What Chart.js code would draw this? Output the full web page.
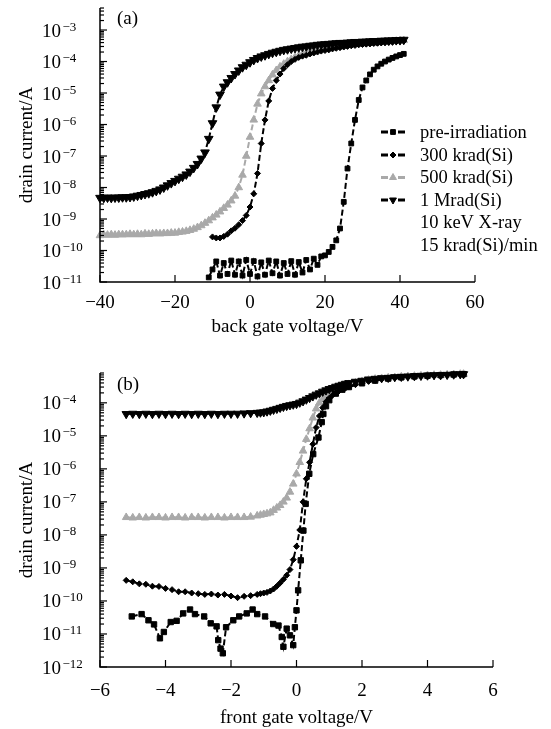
<!DOCTYPE html>
<html><head><meta charset="utf-8">
<script src="https://cdn.jsdelivr.net/npm/chart.js@4/dist/chart.umd.min.js"></script>
<style>
html,body{margin:0;padding:0;background:#fff;}
#wrap{position:relative;width:551px;height:729px;background:#fff;}
#chartA{position:absolute;left:0;top:0;}
#chartB{position:absolute;left:0;top:345px;}
</style></head><body>
<div id="wrap">
<canvas id="chartA" width="551" height="345"></canvas>
<canvas id="chartB" width="551" height="384"></canvas>
</div>
<script>
// ---------- DATA ----------
const seriesNames = ['pre-irradiation', '300 krad(Si)', '500 krad(Si)', '1 Mrad(Si)'];
const notes = ['10 keV X-ray', '15 krad(Si)/min'];

// Panel (a): back gate voltage (V) vs drain current (A)
const vA = [-40,-39,-38,-37,-36,-35,-34,-33,-32,-31,-30,-29,-28,-27,-26,-25,-24,-23,-22,-21,-20,-19,-18,-17,-16,-15,-14,-13,-12,-11,-10,-9,-8,-7,-6,-5,-4,-3,-2,-1,0,1,2,3,4,5,6,7,8,9,10,11,12,13,14,15,16,17,18,19,20,21,22,23,24,25,26,27,28,29,30,31,32,33,34,35,36,37,38,39,40,41];
const iA_1M = [4.7e-9,4.7e-9,4.8e-9,4.7e-9,4.8e-9,4.8e-9,4.9e-9,4.9e-9,5.0e-9,5.2e-9,
  5.5e-9,5.8e-9,6.2e-9,6.6e-9,7.1e-9,7.8e-9,8.7e-9,1.0e-8,1.17e-8,1.38e-8,
  1.62e-8,1.9e-8,2.2e-8,2.6e-8,3.2e-8,4.2e-8,5.6e-8,8.3e-8,1.3e-7,3.5e-7,
  1.1e-6,3.5e-6,8.9e-6,1.6e-5,2.2e-5,3.0e-5,4.0e-5,5.2e-5,6.6e-5,7.9e-5,
  9.5e-5,1.12e-4,1.29e-4,1.45e-4,1.58e-4,1.74e-4,1.9e-4,2.04e-4,2.19e-4,2.34e-4,2.45e-4,
  2.57e-4,2.69e-4,2.82e-4,2.95e-4,3.02e-4,3.16e-4,3.24e-4,3.39e-4,3.47e-4,3.55e-4,
  3.63e-4,3.72e-4,3.8e-4,3.89e-4,3.89e-4,3.98e-4,4.07e-4,4.17e-4,4.17e-4,4.27e-4,
  4.27e-4,4.37e-4,4.47e-4,4.47e-4,4.57e-4,4.57e-4,4.68e-4,4.68e-4,4.79e-4,4.79e-4,4.9e-4];
const iA_500k = [3.0e-10,3.2e-10,3.1e-10,3.2e-10,3.1e-10,3.2e-10,3.2e-10,3.2e-10,3.3e-10,3.2e-10,
  3.3e-10,3.2e-10,3.4e-10,3.3e-10,3.4e-10,3.5e-10,3.4e-10,3.5e-10,3.5e-10,3.6e-10,
  3.6e-10,3.8e-10,3.9e-10,4.1e-10,4.4e-10,4.8e-10,5.4e-10,6.2e-10,7.4e-10,8.9e-10,
  1.1e-9,1.35e-9,1.7e-9,2.2e-9,2.8e-9,3.8e-9,5.4e-9,1.0e-8,2.5e-8,1.0e-7,
  4.0e-7,1.4e-6,4.5e-6,9.5e-6,1.6e-5,2.5e-5,3.8e-5,5.2e-5,6.8e-5,8.3e-5,
  1.0e-4,1.17e-4,1.35e-4,1.51e-4,1.7e-4,1.86e-4,2.0e-4,2.14e-4,2.29e-4,2.4e-4,
  2.51e-4,2.63e-4,2.75e-4,2.88e-4,3.02e-4,3.16e-4,3.24e-4,3.39e-4,3.47e-4,3.55e-4,
  3.63e-4,3.72e-4,3.8e-4,3.89e-4,3.98e-4,4.07e-4,4.17e-4,4.27e-4,4.37e-4,4.47e-4,
  4.57e-4,4.68e-4];
const vA_300k = [-10,-9,-8,-7,-6,-5,-4,-3,-2,-1,0,1,2,3,4,5,6,7,8,9,10,11,12,13,14,15,16,17,18,19,20,21,22,23,24,25,26,27,28,29,30,31,32,33,34,35,36,37,38,39,40,41];
const iA_300k = [2.7e-10,2.5e-10,2.5e-10,2.8e-10,3.3e-10,4.2e-10,5.1e-10,6.6e-10,8.9e-10,1.3e-9,
  2.4e-9,6.3e-9,2.8e-8,2.5e-7,1.4e-6,5.6e-6,1.4e-5,2.5e-5,4.0e-5,6.0e-5,
  7.9e-5,1.0e-4,1.17e-4,1.35e-4,1.48e-4,1.58e-4,1.74e-4,1.86e-4,2.0e-4,2.14e-4,
  2.24e-4,2.34e-4,2.51e-4,2.63e-4,2.75e-4,2.88e-4,3.02e-4,3.16e-4,3.24e-4,3.39e-4,
  3.47e-4,3.55e-4,3.63e-4,3.72e-4,3.8e-4,3.89e-4,3.98e-4,4.07e-4,4.17e-4,4.27e-4,
  4.37e-4,4.47e-4];
const vA_pre = [-11,-10,-9,-8,-7,-6,-5,-4,-3,-2,-1,0,1,2,3,4,5,6,7,8,9,10,11,12,13,14,15,16,17,18,19,20,21,22,23,24,25,26,27,28,29,30,31,32,33,34,35,36,37,38,39,40,41];
const iA_pre = [1.4e-11,2.5e-11,4.5e-11,1.6e-11,4.0e-11,1.8e-11,4.8e-11,1.7e-11,4.5e-11,1.6e-11,
  5.0e-11,1.8e-11,4.6e-11,1.5e-11,4.2e-11,1.7e-11,4.8e-11,1.9e-11,4.5e-11,1.6e-11,
  4.0e-11,1.8e-11,4.6e-11,1.7e-11,4.3e-11,2.0e-11,5.0e-11,2.5e-11,5.5e-11,3.5e-11,
  6.5e-11,7.0e-11,9.0e-11,1.3e-10,2.1e-10,5.0e-10,3.5e-9,4.0e-8,2.5e-7,1.4e-6,
  6.0e-6,1.5e-5,2.5e-5,3.9e-5,5.5e-5,7.0e-5,8.5e-5,1.0e-4,1.15e-4,1.3e-4,
  1.45e-4,1.6e-4,1.75e-4];

// Panel (b): front gate voltage (V) vs drain current (A)
const vB = [-5.2,-5.0,-4.8,-4.6,-4.4,-4.2,-4.0,-3.8,-3.6,-3.4,-3.2,-3.0,-2.8,-2.6,-2.4,-2.2,-2.0,-1.8,-1.6,-1.4,-1.2,
  -1.1,-1.0,-0.9,-0.8,-0.7,-0.6,-0.5,-0.4,-0.3,-0.2,-0.1,0.0,0.1,0.2,0.3,0.4,0.5,0.6,0.7,0.8,0.9,1.0,1.1,1.2,1.3,1.4,1.5,1.6,
  1.8,2.0,2.2,2.4,2.6,2.8,3.0,3.2,3.4,3.6,3.8,4.0,4.2,4.4,4.6,4.8,5.0,5.1];
const iB_1M = [4.6e-5,4.7e-5,4.6e-5,4.7e-5,4.6e-5,4.7e-5,4.6e-5,4.7e-5,4.6e-5,4.7e-5,4.6e-5,4.7e-5,4.6e-5,4.7e-5,4.6e-5,4.7e-5,4.7e-5,4.7e-5,4.8e-5,4.9e-5,5.0e-5,
  5.1e-5,5.2e-5,5.5e-5,5.8e-5,6.2e-5,6.6e-5,7.1e-5,7.6e-5,8.1e-5,8.5e-5,8.9e-5,9.3e-5,1.02e-4,1.12e-4,1.26e-4,1.41e-4,1.58e-4,1.78e-4,1.95e-4,2.19e-4,2.4e-4,2.63e-4,2.82e-4,3.09e-4,3.31e-4,3.55e-4,3.8e-4,3.98e-4,
  4.37e-4,4.68e-4,5.13e-4,5.37e-4,5.62e-4,5.75e-4,6.03e-4,6.17e-4,6.31e-4,6.46e-4,6.61e-4,6.76e-4,6.92e-4,6.92e-4,7.08e-4,7.24e-4,7.41e-4,7.41e-4];
const iB_500k = [3.4e-8,3.3e-8,3.4e-8,3.3e-8,3.4e-8,3.4e-8,3.3e-8,3.4e-8,3.4e-8,3.3e-8,3.4e-8,3.4e-8,3.3e-8,3.4e-8,3.4e-8,3.3e-8,3.4e-8,3.4e-8,3.4e-8,3.5e-8,3.8e-8,
  4.0e-8,4.2e-8,4.4e-8,4.7e-8,5.6e-8,6.6e-8,7.9e-8,1.0e-7,1.32e-7,2.0e-7,3.5e-7,7.1e-7,1.58e-6,3.5e-6,7.9e-6,1.66e-5,3.5e-5,6.6e-5,1.0e-4,1.26e-4,1.58e-4,1.9e-4,2.19e-4,2.51e-4,2.82e-4,3.09e-4,3.39e-4,3.63e-4,
  4.07e-4,4.47e-4,4.9e-4,5.25e-4,5.5e-4,5.75e-4,5.89e-4,6.17e-4,6.31e-4,6.46e-4,6.61e-4,6.76e-4,6.92e-4,6.92e-4,7.08e-4,7.24e-4,7.41e-4,7.41e-4];
const iB_300k = [4.2e-10,3.8e-10,3.3e-10,3.2e-10,2.8e-10,2.75e-10,2.4e-10,2.2e-10,1.9e-10,1.9e-10,1.74e-10,1.66e-10,1.58e-10,1.62e-10,1.51e-10,1.58e-10,1.41e-10,1.26e-10,1.38e-10,1.45e-10,1.58e-10,
  1.66e-10,1.74e-10,1.82e-10,2.0e-10,2.3e-10,2.8e-10,3.5e-10,4.5e-10,6.0e-10,8.9e-10,1.78e-9,4.5e-9,1.41e-8,1.0e-7,5.0e-7,1.58e-6,5.6e-6,1.78e-5,4.0e-5,7.1e-5,1.07e-4,1.38e-4,1.7e-4,2.0e-4,2.29e-4,2.57e-4,2.82e-4,3.09e-4,
  3.55e-4,3.98e-4,4.47e-4,4.9e-4,5.25e-4,5.5e-4,5.75e-4,6.03e-4,6.17e-4,6.31e-4,6.46e-4,6.61e-4,6.76e-4,6.92e-4,7.08e-4,7.24e-4,7.24e-4,7.41e-4];
const vB_pre = [-5.03,-4.73,-4.52,-4.35,-4.17,-4.05,-3.84,-3.66,-3.46,-3.25,-3.1,-2.82,-2.62,-2.44,-2.39,-2.32,-2.25,-2.15,-1.93,-1.75,-1.52,-1.34,-1.2,-0.96,-0.71,-0.55,-0.45,-0.4,-0.3,-0.2,-0.1,-0.05,0.0,0.05,0.13,0.21,0.28,0.39,0.51,0.67,0.77,0.82,0.9,1.0,1.2,1.4,1.6,2.0,2.4,2.8,3.2,3.6,4.0,4.4,4.8,5.1];
const iB_pre = [3.4e-11,4.0e-11,2.6e-11,1.95e-11,7.4e-12,1.15e-11,2.3e-11,2.5e-11,4.2e-11,5.5e-11,4.0e-11,3.4e-11,2.1e-11,1.7e-11,6.5e-12,3.6e-12,2.6e-12,1.6e-11,2.6e-11,3.4e-11,4.2e-11,5.5e-11,4.0e-11,3.4e-11,2.0e-11,1.8e-11,8.1e-12,4.1e-12,1.45e-11,9.1e-12,4.6e-12,1.6e-11,5.2e-11,2.1e-10,1.7e-9,1.35e-8,8.7e-8,7.1e-7,2.8e-6,8.9e-6,2.6e-5,4.6e-5,7.9e-5,1.2e-4,1.9e-4,2.5e-4,3.0e-4,3.9e-4,4.7e-4,5.4e-4,5.9e-4,6.3e-4,6.6e-4,6.9e-4,7.2e-4,7.4e-4];

const xTicksA = [-40,-20,0,20,40,60];
const xTicksB = [-6,-4,-2,0,2,4,6];

// ---------- HELPERS ----------
const FONT = '"Liberation Serif","Times New Roman",serif';
const GREY = '#a9a9a9';
function pts(xs, ys){ return xs.map((x,i)=>({x:x, y:ys[i]})); }

function styleSets(big){
  return [
    {pointStyle:'rect', radius: big?3.8:3.4, color:'#000', rot:0},
    {pointStyle:'rectRot', radius: 3, color:'#000', rot:0},
    {pointStyle:'triangle', radius: big?4.4:4.4, color:GREY, rot:0},
    {pointStyle:'triangle', radius: big?4.8:5, color:'#000', rot:180}
  ];
}
function makeDatasets(list, big){
  const st = styleSets(big);
  return list.map((d,i)=>({
    label: seriesNames[i],
    data: d,
    borderColor: st[i].color,
    backgroundColor: st[i].color,
    borderWidth: 2,
    borderDash: [6,3],
    pointStyle: st[i].pointStyle,
    pointRadius: st[i].radius,
    pointRotation: st[i].rot,
    pointBorderWidth: 1,
    pointBorderColor: st[i].color,
    pointBackgroundColor: st[i].color,
    tension: 0,
    clip: false,
    order: [1,2,3,0][i]
  }));
}

const sciAxes = {
  id: 'sciAxes',
  afterDraw(chart, args, o){
    const ctx = chart.ctx, a = chart.chartArea, xs = chart.scales.x, ys = chart.scales.y;
    ctx.save();
    ctx.strokeStyle = '#000'; ctx.fillStyle = '#000';
    ctx.lineWidth = 1.5;
    ctx.beginPath(); ctx.moveTo(a.left, a.top); ctx.lineTo(a.left, a.bottom); ctx.lineTo(a.right, a.bottom); ctx.stroke();
    // x ticks
    ctx.lineWidth = 1.2;
    ctx.font = '19px ' + FONT; ctx.textAlign = 'center'; ctx.textBaseline = 'alphabetic';
    for (const v of o.xTicks){
      const px = xs.getPixelForValue(v);
      ctx.beginPath(); ctx.moveTo(px, a.bottom); ctx.lineTo(px, a.bottom - 7); ctx.stroke();
      ctx.fillText(v < 0 ? '\u2212' + Math.abs(v) : String(v), px, a.bottom + o.xLabOff);
    }
    ctx.fillText(o.xTitle, (a.left + a.right) / 2, a.bottom + o.xTitleOff);
    // y ticks (log)
    const lo = Math.round(Math.log10(ys.min)), hi = Math.floor(Math.log10(ys.max) + 1e-9);
    for (let e = lo; e <= hi; e++){
      const py = ys.getPixelForValue(Math.pow(10, e));
      ctx.beginPath(); ctx.moveTo(a.left, py); ctx.lineTo(a.left + 7, py); ctx.stroke();
      ctx.textAlign = 'left';
      ctx.font = '19px ' + FONT;
      ctx.fillText('10', 42, py + 6.5);
      const w = ctx.measureText('10').width;
      ctx.font = '13px ' + FONT;
      ctx.fillText('\u2212' + Math.abs(e), 42 + w + 1.5, py + 0.5);
      for (let k = 2; k <= 9; k++){
        const v = k * Math.pow(10, e);
        if (v > ys.max * 1.0001) break;
        const pm = ys.getPixelForValue(v);
        ctx.beginPath(); ctx.moveTo(a.left, pm); ctx.lineTo(a.left + 4, pm); ctx.stroke();
      }
    }
    // y title
    ctx.font = '19px ' + FONT;
    ctx.save();
    ctx.translate(32, (a.top + a.bottom) / 2);
    ctx.rotate(-Math.PI / 2);
    ctx.textAlign = 'center';
    ctx.fillText(o.yTitle, 0, 0);
    ctx.restore();
    // panel tag
    ctx.textAlign = 'left';
    ctx.fillText(o.tag, 117, a.top + o.tagOff);
    // legend
    if (o.legend){
      ctx.font = '18.5px ' + FONT;
      const ds = chart.data.datasets;
      const rows = [132, 155, 177.5, 200];
      ds.forEach((d, i) => {
        const y = rows[i];
        ctx.save();
        ctx.strokeStyle = d.borderColor; ctx.lineWidth = 2.8;
        ctx.beginPath(); ctx.moveTo(381, y); ctx.lineTo(388, y); ctx.moveTo(398, y); ctx.lineTo(405, y); ctx.stroke();
        ctx.fillStyle = d.pointBackgroundColor; ctx.strokeStyle = d.pointBorderColor; ctx.lineWidth = 1;
        Chart.helpers.drawPoint(ctx, {pointStyle: d.pointStyle, radius: Math.min(d.pointRadius, 4), rotation: d.pointRotation, borderWidth: 1}, 393, y);
        ctx.restore();
        ctx.fillStyle = '#000'; ctx.textBaseline = 'middle';
        ctx.fillText(d.label, 420, y + 1);
      });
      notes.forEach((t, j) => { ctx.fillText(t, 420, [222.5, 245][j] + 1); });
    }
    ctx.restore();
  }
};

function baseOptions(xmin, xmax, ymin, ymax, pad, plug){
  return {
    responsive: false, animation: false, devicePixelRatio: 1,
    layout: {padding: pad},
    plugins: {legend: {display: false}, tooltip: {enabled: false}, sciAxes: plug},
    scales: {
      x: {type: 'linear', min: xmin, max: xmax, display: false, bounds: 'data'},
      y: {type: 'logarithmic', min: ymin, max: ymax, display: false, bounds: 'data'}
    },
    elements: {line: {fill: false}}
  };
}

new Chart(document.getElementById('chartA'), {
  type: 'line',
  data: {datasets: makeDatasets([pts(vA_pre, iA_pre), pts(vA_300k, iA_300k), pts(vA, iA_500k), pts(vA, iA_1M)], false)},
  options: baseOptions(-40, 60, 1e-11, 5e-3, {left: 100, right: 76, top: 8, bottom: 63},
    {xTicks: xTicksA, xTitle: 'back gate voltage/V', yTitle: 'drain current/A', tag: '(a)', tagOff: 16, xLabOff: 26, xTitleOff: 50, legend: true}),
  plugins: [sciAxes]
});

new Chart(document.getElementById('chartB'), {
  type: 'line',
  data: {datasets: makeDatasets([pts(vB_pre, iB_pre), pts(vB, iB_300k), pts(vB, iB_500k), pts(vB, iB_1M)], true)},
  options: baseOptions(-6, 6, 1e-12, 8e-4, {left: 100, right: 58, top: 28, bottom: 62},
    {xTicks: xTicksB, xTitle: 'front gate voltage/V', yTitle: 'drain current/A', tag: '(b)', tagOff: 17, xLabOff: 29, xTitleOff: 56, legend: false}),
  plugins: [sciAxes]
});
</script>
</body></html>
